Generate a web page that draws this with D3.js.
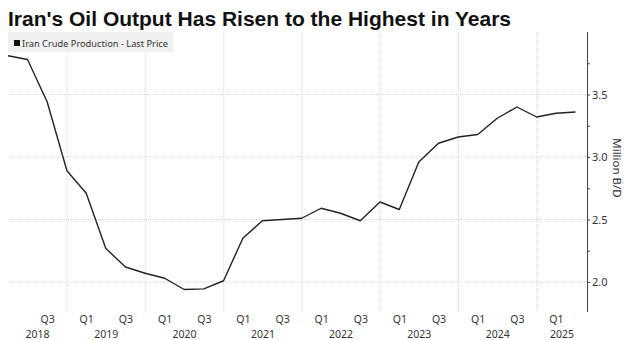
<!DOCTYPE html>
<html>
<head>
<meta charset="utf-8">
<script src="https://cdn.jsdelivr.net/npm/d3@7"></script>
<style>
  html, body { margin: 0; padding: 0; background: #fff; }
  svg { display: block; }
</style>
</head>
<body>
<svg id="chart" width="631" height="340"></svg>
<script>
// Iran crude production, quarterly (million barrels per day), dated at quarter end
const periods = [
  "2018-03-31","2018-06-30","2018-09-30","2018-12-31",
  "2019-03-31","2019-06-30","2019-09-30","2019-12-31",
  "2020-03-31","2020-06-30","2020-09-30","2020-12-31",
  "2021-03-31","2021-06-30","2021-09-30","2021-12-31",
  "2022-03-31","2022-06-30","2022-09-30","2022-12-31",
  "2023-03-31","2023-06-30","2023-09-30","2023-12-31",
  "2024-03-31","2024-06-30","2024-09-30","2024-12-31",
  "2025-03-31","2025-06-30"
];
const production = [
  3.81, 3.78, 3.44, 2.89,
  2.71, 2.27, 2.12, 2.07,
  2.03, 1.94, 1.945, 2.01,
  2.35, 2.49, 2.50, 2.51,
  2.59, 2.55, 2.49, 2.64,
  2.58, 2.96, 3.11, 3.16,
  3.18, 3.31, 3.40, 3.32,
  3.35, 3.36
];

// Axis ticks
const yMajorTicks = [2.0, 2.5, 3.0, 3.5];
const yMinorTicks = [2.25, 2.75, 3.25, 3.75];
const quarterTickDates = [
  "2018-09-30",
  "2019-03-31","2019-09-30",
  "2020-03-31","2020-09-30",
  "2021-03-31","2021-09-30",
  "2022-03-31","2022-09-30",
  "2023-03-31","2023-09-30",
  "2024-03-31","2024-09-30",
  "2025-03-31"
];
const quarterTickLabels = ["Q3","Q1","Q3","Q1","Q3","Q1","Q3","Q1","Q3","Q1","Q3","Q1","Q3","Q1"];
const yearLabels = [2018, 2019, 2020, 2021, 2022, 2023, 2024, 2025];

const titleText = "Iran's Oil Output Has Risen to the Highest in Years";
const legendText = "Iran Crude Production - Last Price";
const yAxisTitle = "Million B/D";

const parse = d3.timeParse("%Y-%m-%d");
const data = periods.map((p, i) => ({ date: parse(p), value: production[i] }));

const svg = d3.select("#chart");
const plot = { left: 8, right: 587, top: 32, bottom: 312 };

const x = d3.scaleTime()
  .domain([new Date(2018, 2, 31), new Date(2025, 7, 23)])
  .range([plot.left, plot.right]);
const y = d3.scaleLinear()
  .domain([1.76, 4.0])
  .range([plot.bottom, plot.top]);

const smallFont = "'Noto Sans', 'Open Sans', sans-serif";
const textColor = "#333";

// Title
svg.append("text")
  .attr("x", 8).attr("y", 26)
  .attr("font-family", "'Liberation Sans', Arial, sans-serif")
  .attr("font-weight", "bold")
  .attr("font-size", 20.5)
  .attr("fill", "#111")
  .attr("textLength", 503)
  .attr("lengthAdjust", "spacingAndGlyphs")
  .text(titleText);

// Gridlines
const grid = svg.append("g").attr("class", "grid");
grid.selectAll("line.h")
  .data(yMajorTicks)
  .join("line")
  .attr("class", "h")
  .attr("x1", plot.left).attr("x2", plot.right)
  .attr("y1", d => y(d)).attr("y2", d => y(d))
  .attr("stroke", "#d4d4d4")
  .attr("stroke-width", 1)
  .attr("stroke-dasharray", "1,1");

const yearStarts = yearLabels.map(yr => new Date(yr, 0, 1)).filter(d => x(d) > plot.left + 1);
grid.selectAll("line.v")
  .data(yearStarts)
  .join("line")
  .attr("class", "v")
  .attr("x1", d => x(d)).attr("x2", d => x(d))
  .attr("y1", plot.top).attr("y2", plot.bottom)
  .attr("stroke", "#d4d4d4")
  .attr("stroke-width", 1)
  .attr("stroke-dasharray", "1,1");

// Legend
const legend = svg.append("g");
legend.append("rect")
  .attr("x", 8).attr("y", 32).attr("width", 165).attr("height", 20)
  .attr("fill", "#f0f0f0");
legend.append("rect")
  .attr("x", 14).attr("y", 40).attr("width", 6).attr("height", 6)
  .attr("fill", "#111");
legend.append("text")
  .attr("x", 22).attr("y", 46.5)
  .attr("font-family", smallFont)
  .attr("font-size", 9.5)
  .attr("fill", textColor)
  .attr("textLength", 146)
  .attr("lengthAdjust", "spacingAndGlyphs")
  .text(legendText);

// Series line
const line = d3.line()
  .x(d => x(d.date))
  .y(d => y(d.value));
svg.append("path")
  .datum(data)
  .attr("fill", "none")
  .attr("stroke", "#222")
  .attr("stroke-width", 1.4)
  .attr("stroke-linejoin", "round")
  .attr("d", line);

// Right value axis
const yAxis = d3.axisRight(y)
  .tickValues(yMajorTicks)
  .tickSize(3)
  .tickPadding(2)
  .tickFormat(d3.format(".1f"));
const yAxisG = svg.append("g")
  .attr("transform", `translate(${plot.right},0)`)
  .call(yAxis);
yAxisG.select(".domain")
  .attr("d", `M0.5,${plot.top}V${plot.bottom}`)
  .attr("stroke", "#444");
yAxisG.selectAll(".tick line").attr("stroke", "#444");
yAxisG.selectAll(".tick text")
  .attr("font-family", smallFont)
  .attr("font-size", 11)
  .attr("fill", textColor);

const yMinorAxis = d3.axisRight(y)
  .tickValues(yMinorTicks)
  .tickSize(3)
  .tickFormat("");
const yMinorG = svg.append("g")
  .attr("transform", `translate(${plot.right},0)`)
  .call(yMinorAxis);
yMinorG.select(".domain").remove();
yMinorG.selectAll(".tick line").attr("stroke", "#444");

svg.append("text")
  .attr("transform", `translate(613,${(plot.top + plot.bottom) / 2 - 4}) rotate(90)`)
  .attr("text-anchor", "middle")
  .attr("font-family", smallFont)
  .attr("font-size", 11.5)
  .attr("fill", textColor)
  .text(yAxisTitle);

// Bottom time axis: quarter labels and year labels
const xAxis = d3.axisBottom(x)
  .tickValues(quarterTickDates.map(parse))
  .tickSize(0)
  .tickPadding(0)
  .tickFormat((d, i) => quarterTickLabels[i]);
const xAxisG = svg.append("g")
  .attr("transform", `translate(0,${plot.bottom + 4})`)
  .call(xAxis);
xAxisG.select(".domain").remove();
xAxisG.selectAll(".tick text")
  .attr("font-family", smallFont)
  .attr("font-size", 10.5)
  .attr("fill", textColor)
  .attr("dy", "0.71em");

const [d0, d1] = x.domain();
svg.append("g").selectAll("text")
  .data(yearLabels)
  .join("text")
  .attr("x", yr => {
    const a = d3.max([new Date(yr, 0, 1), d0]);
    const b = d3.min([new Date(yr + 1, 0, 1), d1]);
    return (x(a) + x(b)) / 2;
  })
  .attr("y", 337.5)
  .attr("text-anchor", "middle")
  .attr("font-family", smallFont)
  .attr("font-size", 10.5)
  .attr("fill", textColor)
  .text(yr => yr);
</script>
</body>
</html>
